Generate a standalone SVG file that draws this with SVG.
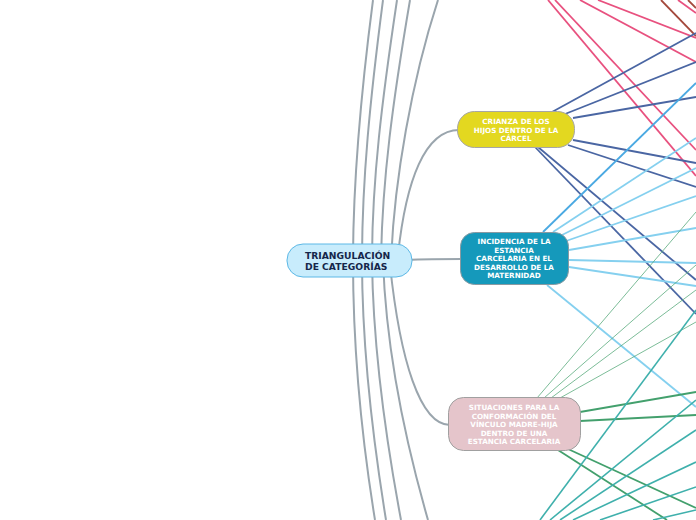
<svg xmlns="http://www.w3.org/2000/svg" width="696" height="520" viewBox="0 0 696 520">
<style>
.g{fill:none;stroke:#9aa5ad;stroke-width:2}
.pk{stroke:#e8517f;stroke-width:1.8}
.br{stroke:#a4493c;stroke-width:1.8}
.nv{stroke:#4a66a3;stroke-width:1.8}
.mb{stroke:#4aa9e2;stroke-width:1.8}
.lb{stroke:#85d0ef;stroke-width:1.8}
.tg{stroke:#5aab7d;stroke-width:0.8}
.gr{stroke:#43a06d;stroke-width:1.8}
.tl{stroke:#3fb0ac;stroke-width:1.6}
.t{font-family:"DejaVu Sans",Verdana,sans-serif;font-weight:bold;fill:#fff;font-size:7.2px;text-anchor:middle}
.tc{font-family:"DejaVu Sans",Verdana,sans-serif;font-weight:bold;fill:#15264a;font-size:9.2px}
</style>
<g id="connectors">
<path class="g" d="M353,262 C353,180 360,100 373,0"/>
<path class="g" d="M362,262 C362,180 370,100 383,0"/>
<path class="g" d="M372,262 C372,180 382,100 397,0"/>
<path class="g" d="M381,262 C382,180 393,100 410,0"/>
<path class="g" d="M391,262 C394,180 412,80 438,0"/>
<path class="g" d="M398,255 C406,180 425,130 459,130"/>
<path class="g" d="M353,260 C353,350 362,440 375,520"/>
<path class="g" d="M362,260 C362,350 373,440 386,520"/>
<path class="g" d="M372,260 C373,350 386,440 401,520"/>
<path class="g" d="M383,260 C386,350 405,440 428,520"/>
<path class="g" d="M390,265 C400,360 420,425 450,425"/>
<path class="g" d="M405,260 C430,259 445,259 462,259"/>
<g fill="none">
<line class="pk" x1="548" y1="0" x2="696" y2="176"/>
<line class="pk" x1="555" y1="0" x2="696" y2="150"/>
<line class="pk" x1="580" y1="0" x2="696" y2="62"/>
<line class="pk" x1="598" y1="0" x2="696" y2="38"/>
<line class="pk" x1="678" y1="0" x2="696" y2="13"/>
<line class="br" x1="661" y1="0" x2="696" y2="36"/>
<line class="br" x1="688" y1="0" x2="696" y2="8"/>
<line class="nv" x1="552" y1="112" x2="696" y2="33"/>
<line class="nv" x1="565" y1="114" x2="696" y2="62"/>
<line class="nv" x1="573" y1="118" x2="696" y2="97"/>
<line class="nv" x1="573" y1="140" x2="696" y2="163"/>
<line class="nv" x1="568" y1="145" x2="696" y2="187"/>
<line class="nv" x1="535" y1="147" x2="696" y2="314"/>
<line class="nv" x1="538" y1="147" x2="696" y2="280"/>
<line class="mb" x1="543" y1="232" x2="696" y2="83"/>
<line class="lb" x1="553" y1="232" x2="696" y2="138"/>
<line class="lb" x1="560" y1="236" x2="696" y2="168"/>
<line class="lb" x1="566" y1="241" x2="696" y2="196"/>
<line class="lb" x1="569" y1="250" x2="696" y2="228"/>
<line class="lb" x1="569" y1="260" x2="696" y2="263"/>
<line class="lb" x1="569" y1="267" x2="696" y2="286"/>
<line class="lb" x1="547" y1="285" x2="696" y2="407"/>
<line class="tg" x1="537" y1="398" x2="696" y2="212"/>
<line class="tg" x1="544" y1="398" x2="696" y2="265"/>
<line class="tg" x1="551" y1="398" x2="696" y2="290"/>
<line class="tg" x1="560" y1="398" x2="696" y2="322"/>
<line class="gr" x1="580" y1="412" x2="696" y2="392"/>
<line class="gr" x1="580" y1="421" x2="696" y2="415"/>
<line class="gr" x1="558" y1="450" x2="667" y2="520"/>
<line class="gr" x1="568" y1="449" x2="696" y2="508"/>
<line class="tl" x1="540" y1="520" x2="696" y2="310"/>
<line class="tl" x1="550" y1="520" x2="696" y2="400"/>
<line class="tl" x1="560" y1="520" x2="696" y2="430"/>
<line class="tl" x1="573" y1="520" x2="696" y2="462"/>
<line class="tl" x1="600" y1="520" x2="696" y2="487"/>
<line class="tl" x1="653" y1="520" x2="696" y2="510"/>
</g>
</g>
<g id="n-central">
<rect x="287" y="244" width="125" height="33" rx="16" fill="#c8ecfc" stroke="#5cb8e6" stroke-width="1"/>
<text class="tc" x="305" y="259">TRIANGULACIÓN</text>
<text class="tc" x="305" y="270">DE CATEGORÍAS</text>
</g>
<g id="n-crianza">
<rect x="457.5" y="111.5" width="117" height="36" rx="17" fill="#e3d820" stroke="#a6a6a6" stroke-width="1"/>
<text class="t" x="516" y="124">CRIANZA DE LOS</text>
<text class="t" x="516" y="132.5">HIJOS DENTRO DE LA</text>
<text class="t" x="516" y="141">CÁRCEL</text>
</g>
<g id="n-incidencia">
<rect x="460.5" y="232.5" width="108" height="52" rx="14" fill="#1599bb" stroke="#8a9aa2" stroke-width="1"/>
<text class="t" x="514" y="244">INCIDENCIA DE LA</text>
<text class="t" x="514" y="252.5">ESTANCIA</text>
<text class="t" x="514" y="261">CARCELARIA EN EL</text>
<text class="t" x="514" y="269.5">DESARROLLO DE LA</text>
<text class="t" x="514" y="278">MATERNIDAD</text>
</g>
<g id="n-situaciones">
<rect x="448.5" y="397.5" width="132" height="53" rx="15" fill="#e5c5cb" stroke="#a0a0a0" stroke-width="1"/>
<text class="t" x="514" y="410">SITUACIONES PARA LA</text>
<text class="t" x="514" y="418.5">CONFORMACIÓN DEL</text>
<text class="t" x="514" y="427">VÍNCULO MADRE-HIJA</text>
<text class="t" x="514" y="435.5">DENTRO DE UNA</text>
<text class="t" x="514" y="444">ESTANCIA CARCELARIA</text>
</g>
</svg>
